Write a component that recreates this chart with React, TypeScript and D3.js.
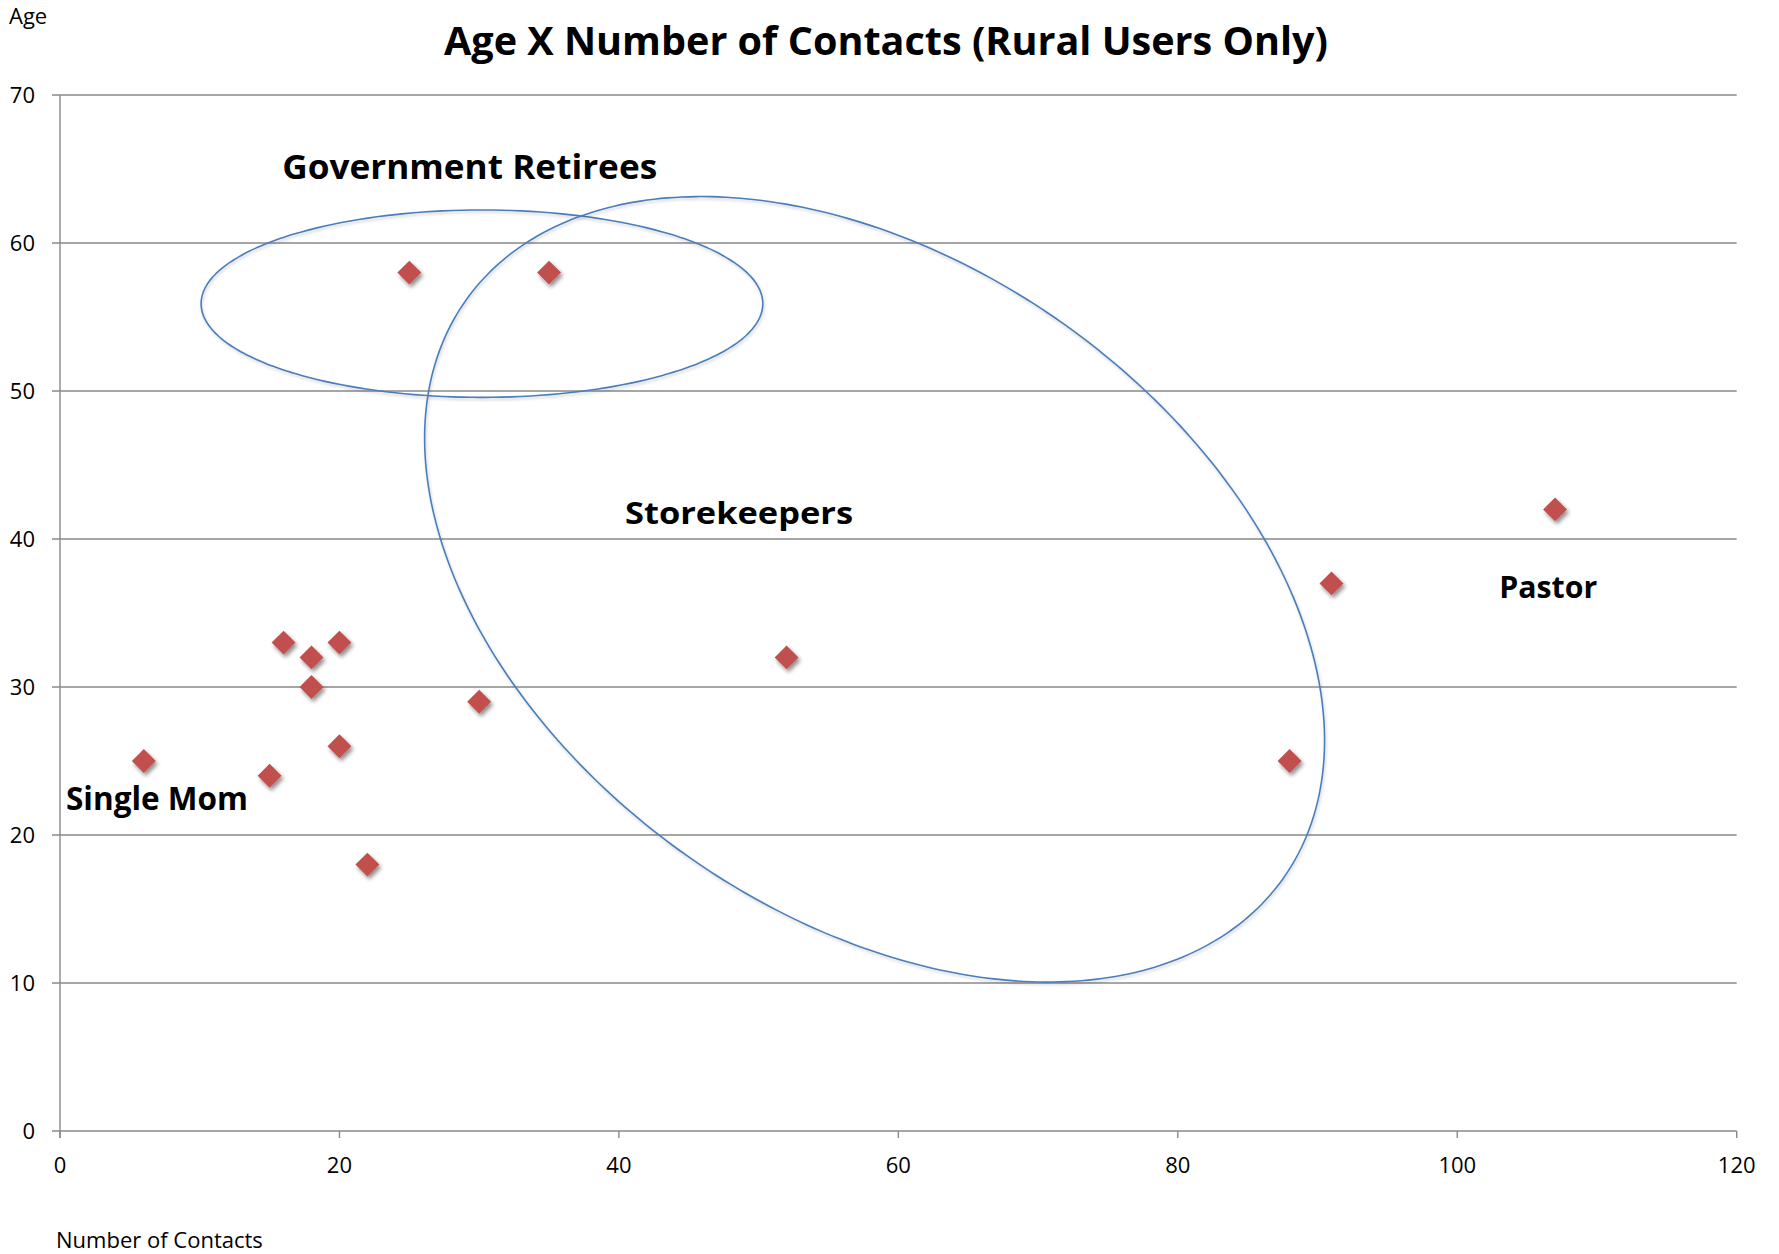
import React from "react";
import * as d3 from "d3";

const W = 1779;
const H = 1254;

// Data: [Number of Contacts, Age]
const contacts = [6, 15, 16, 18, 18, 20, 20, 22, 30, 25, 35, 52, 88, 91, 107];
const ages = [25, 24, 33, 32, 30, 33, 26, 18, 29, 58, 58, 32, 25, 37, 42];

const xTicks = [0, 20, 40, 60, 80, 100, 120];
const yTicks = [0, 10, 20, 30, 40, 50, 60, 70];

const titleText = "Age X Number of Contacts (Rural Users Only)";
const xAxisTitle = "Number of Contacts";
const yAxisTitle = "Age";

// Annotation groups (data units): centre, conjugate semi-axis vectors
const groupNames = ["Government Retirees", "Storekeepers"];
const groupCenters: [number, number][] = [
  [30.2, 55.9],
  [58.3, 36.6],
];
const groupAxisA: [number, number][] = [
  [20.1, 0],
  [29.27, -19.5],
];
const groupAxisB: [number, number][] = [
  [0, 6.33],
  [-13.43, -18.0],
];

// Text labels (data units anchor = left/baseline)
const labelTexts = ["Government Retirees", "Storekeepers", "Single Mom", "Pastor"];
const labelX = [15.9, 40.44, 0.43, 103.0];
const labelY = [64.32, 41.0, 21.69, 36.01];
const labelWidths = [375, 228, 182, 98];
const labelSizes = [34, 31, 32, 30];

export default function App() {
  const left = 60;
  const right = 1736.7;
  const top = 95;
  const bottom = 1131;

  const x = d3.scaleLinear().domain([0, 120]).range([left, right]);
  const y = d3.scaleLinear().domain([0, 70]).range([bottom, top]);

  const gridColor = "#898989";
  const font = "'Open Sans', 'Noto Sans', sans-serif";

  const ellipsePath = (i: number) => {
    const [cx, cy] = groupCenters[i];
    const [ax, ay] = groupAxisA[i];
    const [bx, by] = groupAxisB[i];
    const pts: [number, number][] = d3.range(0, 361, 2).map((deg) => {
      const t = (deg * Math.PI) / 180;
      return [
        x(cx + ax * Math.cos(t) + bx * Math.sin(t)),
        y(cy + ay * Math.cos(t) + by * Math.sin(t)),
      ];
    });
    return d3.line().curve(d3.curveCardinalClosed)(pts.slice(0, -1)) as string;
  };

  const diamond = d3.symbol().type(d3.symbolDiamond2).size(2 * 13.5 * 13.5)() as string;

  return (
    <svg
      width={W}
      height={H}
      style={{ position: "absolute", left: 0, top: 0, background: "#fff" }}
    >
      <defs>
        <filter id="shadow" x="-50%" y="-50%" width="200%" height="200%">
          <feGaussianBlur in="SourceAlpha" stdDeviation="2" />
          <feOffset dx="1.5" dy="3" result="ob" />
          <feComponentTransfer>
            <feFuncA type="linear" slope="0.45" />
          </feComponentTransfer>
          <feMerge>
            <feMergeNode />
            <feMergeNode in="SourceGraphic" />
          </feMerge>
        </filter>
        <filter id="lshadow" x="-10%" y="-10%" width="120%" height="120%">
          <feGaussianBlur in="SourceAlpha" stdDeviation="1.5" />
          <feOffset dx="1" dy="2" />
          <feComponentTransfer>
            <feFuncA type="linear" slope="0.2" />
          </feComponentTransfer>
          <feMerge>
            <feMergeNode />
            <feMergeNode in="SourceGraphic" />
          </feMerge>
        </filter>
      </defs>
      <rect width={W} height={H} fill="#fff" />

      {/* gridlines */}
      {yTicks.map((t) => (
        <line
          key={"g" + t}
          x1={left - 8}
          x2={right}
          y1={y(t)}
          y2={y(t)}
          stroke={gridColor}
          strokeWidth={1.4}
        />
      ))}
      {/* y axis */}
      <line x1={left} x2={left} y1={top} y2={bottom + 7} stroke={gridColor} strokeWidth={1.4} />
      {/* x ticks */}
      {xTicks.map((t) => (
        <line
          key={"xt" + t}
          x1={x(t)}
          x2={x(t)}
          y1={bottom}
          y2={bottom + 7}
          stroke={gridColor}
          strokeWidth={1.4}
        />
      ))}
      {/* tick labels */}
      {yTicks.map((t) => (
        <text
          key={"yl" + t}
          x={35}
          y={y(t)}
          dy="0.35em"
          textAnchor="end"
          fontFamily={font}
          fontSize={22}
          fill="#000"
        >
          {t}
        </text>
      ))}
      {xTicks.map((t) => (
        <text
          key={"xl" + t}
          x={x(t)}
          y={1173}
          textAnchor="middle"
          fontFamily={font}
          fontSize={22}
          fill="#000"
        >
          {t}
        </text>
      ))}

      {/* axis titles */}
      <text x={9} y={24} fontFamily={font} fontSize={22} fill="#000">
        {yAxisTitle}
      </text>
      <text x={56} y={1248} fontFamily={font} fontSize={22} fill="#000">
        {xAxisTitle}
      </text>

      {/* chart title */}
      <text
        x={444}
        y={55}
        fontFamily={font}
        fontWeight="bold"
        fontSize={40}
        textLength={884}
        lengthAdjust="spacingAndGlyphs"
        fill="#000"
      >
        {titleText}
      </text>

      {/* group ellipses */}
      {groupNames.map((n, i) => (
        <path
          key={n}
          d={ellipsePath(i)}
          fill="none"
          stroke="#4A7EBB"
          strokeWidth={1.6}
          filter="url(#lshadow)"
        />
      ))}

      {/* labels */}
      {labelTexts.map((t, i) => (
        <text
          key={t}
          x={x(labelX[i])}
          y={y(labelY[i])}
          fontFamily={font}
          fontWeight="bold"
          fontSize={labelSizes[i]}
          textLength={labelWidths[i]}
          lengthAdjust="spacingAndGlyphs"
          fill="#000"
        >
          {t}
        </text>
      ))}

      {/* points */}
      {contacts.map((c, i) => (
        <path
          key={"p" + i}
          d={diamond}
          transform={`translate(${x(c)},${y(ages[i])})`}
          fill="#C0504D"
          filter="url(#shadow)"
        />
      ))}
    </svg>
  );
}
